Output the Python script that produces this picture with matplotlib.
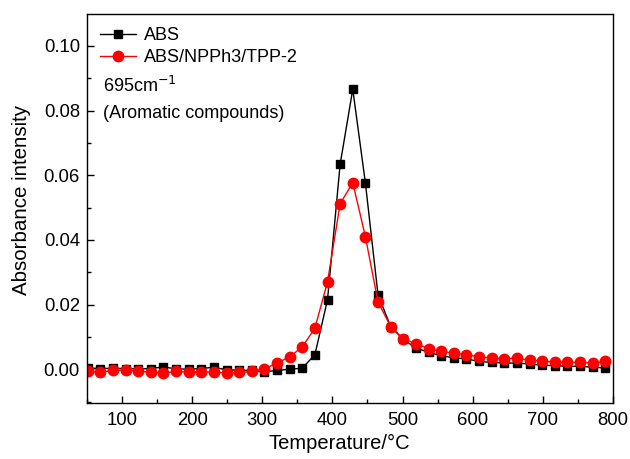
import numpy as np
import matplotlib
matplotlib.use('Agg')
import matplotlib.pyplot as plt
from matplotlib.ticker import MultipleLocator

plt.rcParams['font.family'] = ['Liberation Sans', 'DejaVu Sans']

# temperature steps of the TG-IR run
temperature = [51 + 18 * i for i in range(42)]

abs_neat = [0.0004, 0.0002, 0.0003, 0.0002, 0.0001, 0.0002, 0.0007, 0.0001,
            0.0000, 0.0002, 0.0006, -0.0002, -0.0003, -0.0004, -0.0008,
            -0.0004, 0.0000, 0.0003, 0.0045, 0.0215, 0.0634, 0.0866,
            0.0576, 0.0230, 0.0132, 0.0092, 0.0066, 0.0052, 0.0042, 0.0035,
            0.0032, 0.0024, 0.0021, 0.0019, 0.0019, 0.0016, 0.0012, 0.0011,
            0.0009, 0.0009, 0.0006, 0.0004]

abs_npph3 = [-0.0007, -0.0009, -0.0004, -0.0002, -0.0007, -0.0009, -0.0012,
             -0.0007, -0.0009, -0.0009, -0.0009, -0.0012, -0.0010, -0.0007,
             0.0001, 0.0019, 0.0038, 0.0069, 0.0127, 0.0270, 0.0512, 0.0577,
             0.0410, 0.0208, 0.0132, 0.0094, 0.0079, 0.0064, 0.0055, 0.0050,
             0.0045, 0.0038, 0.0035, 0.0032, 0.0035, 0.0027, 0.0026, 0.0021,
             0.0021, 0.0021, 0.0019, 0.0024]

fig = plt.figure(figsize=(6.3, 4.59), dpi=100)
ax = fig.add_axes([0.138, 0.121, 0.835, 0.848])

ax.plot(temperature, abs_neat, color='black', lw=1.0, marker='s', ms=6,
        label='ABS')
ax.plot(temperature, abs_npph3, color='red', lw=1.0, marker='o', ms=7.5,
        label='ABS/NPPh3/TPP-2')

ax.set_xlim(50, 800)
ax.set_ylim(-0.0106, 0.1098)
ax.xaxis.set_major_locator(MultipleLocator(100))
ax.xaxis.set_minor_locator(MultipleLocator(50))
ax.yaxis.set_major_locator(MultipleLocator(0.02))
ax.yaxis.set_minor_locator(MultipleLocator(0.01))
ax.yaxis.set_major_formatter(matplotlib.ticker.FormatStrFormatter('%.2f'))
ax.tick_params(which='both', direction='in', labelsize=13.3)
ax.tick_params(which='major', length=5, width=1)
ax.tick_params(which='minor', length=3, width=1)
ax.tick_params(axis='x', pad=6)
ax.tick_params(axis='y', pad=5)
for s in ax.spines.values():
    s.set_linewidth(1.0)

ax.set_xlabel('Temperature/°C', fontsize=14.5)
ax.set_ylabel('Absorbance intensity', fontsize=14.8)
ax.xaxis.set_label_coords(0.479, -0.078)
ax.yaxis.set_label_coords(-0.106, 0.523)

ax.legend(loc='upper left', frameon=False, fontsize=13, handlelength=2.0,
          handletextpad=0.45, labelspacing=0.3, borderaxespad=0.3)
ax.text(0.03, 0.816, '695cm$^{-1}$', transform=ax.transAxes, fontsize=13,
        va='center')
ax.text(0.03, 0.746, '(Aromatic compounds)', transform=ax.transAxes,
        fontsize=13, va='center')

fig.savefig('out.png', dpi=100)
